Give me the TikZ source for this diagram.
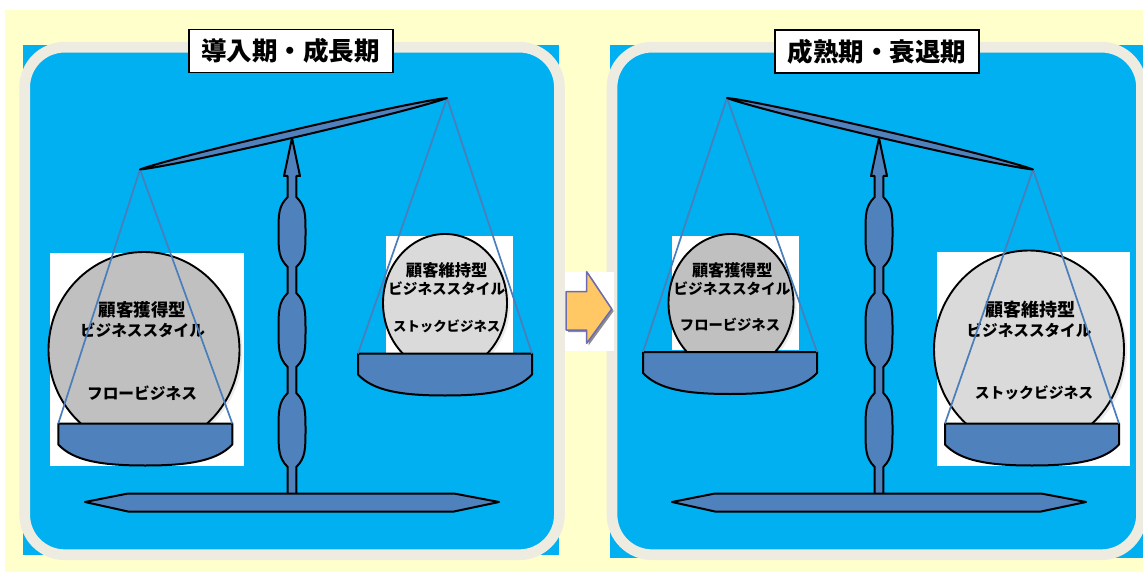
\documentclass[tikz,border=0pt]{standalone}
\usepackage{fontspec}
\usetikzlibrary{calc,shapes.geometric}
\newfontfamily\jp{Noto Sans CJK JP}

\definecolor{paper}{HTML}{FFFFCC}
\definecolor{sky}{HTML}{00B0F0}
\definecolor{frame}{HTML}{EEECE1}
\definecolor{steel}{HTML}{4F81BD}
\definecolor{cordblue}{HTML}{4A7EBB}
\definecolor{flowgray}{HTML}{C0C0C0}
\definecolor{stockgray}{HTML}{DADADA}
\definecolor{arrowfill}{HTML}{FFC864}
\definecolor{arrowline}{HTML}{6B6BB0}

\tikzset{
  part/.style={fill=steel, draw=black, line width=2pt, line join=round},
  cord/.style={draw=cordblue, line width=1.7pt},
  panel/.style={draw=frame, line width=10.7pt, fill=sky, rounded corners=40pt},
  backing/.style={fill=white},
  egg/.style={ellipse, draw=black, line width=1.9pt, inner sep=0pt},
  eggshade/.style={ellipse, fill=black, opacity=0.08, inner sep=0pt},
  label/.style={inner sep=0pt, font=\jp\bfseries},
  titlebox/.style={draw=black, line width=1.8pt, fill=white, inner sep=0pt,
    minimum width=204pt, minimum height=43pt, font=\jp\bfseries\fontsize{25.5}{26}\selectfont},
}

% pan: name, centre x, top y
\newcommand\drawpan[3]{%
  \coordinate (#1l) at (#2-87,#3);
  \coordinate (#1r) at (#2+87,#3);
  \path[part] (#1l) -- (#1r) -- (#2+87,#3+21)
    .. controls (#2+72,#3+37) and (#2+45,#3+42) .. (#2,#3+42)
    .. controls (#2-45,#3+42) and (#2-72,#3+37) .. (#2-87,#3+21) -- cycle;
}

% beam between two tip coordinates
\newcommand\drawbeam[2]{%
  \path[part] (#1)
    .. controls ($(#1)!0.12!(#2)!5pt!90:(#2)$) and ($(#1)!0.88!(#2)!5pt!-90:(#1)$) .. (#2)
    .. controls ($(#1)!0.88!(#2)!5pt!90:(#1)$) and ($(#1)!0.12!(#2)!5pt!-90:(#2)$) .. (#1) -- cycle;
}

% upright post with three bulges, centred at x
\newcommand\drawpost[1]{%
  \path[part] (#1,138) -- (#1+8,176) -- (#1+4.3,176) -- (#1+4.3,197)
    .. controls (#1+13.5,206) and (#1+13.5,214) .. (#1+13.5,232)
    .. controls (#1+13.5,250) and (#1+13.5,258) .. (#1+4.3,267)
    -- (#1+4.3,293)
    .. controls (#1+13.5,302) and (#1+13.5,311) .. (#1+13.5,330)
    .. controls (#1+13.5,349) and (#1+13.5,358) .. (#1+4.3,367)
    -- (#1+4.3,393)
    .. controls (#1+13.5,402) and (#1+13.5,411) .. (#1+13.5,430)
    .. controls (#1+13.5,449) and (#1+13.5,458) .. (#1+4.3,467)
    -- (#1+4.3,494) -- (#1-4.3,494) -- (#1-4.3,467)
    .. controls (#1-13.5,458) and (#1-13.5,449) .. (#1-13.5,430)
    .. controls (#1-13.5,411) and (#1-13.5,402) .. (#1-4.3,393)
    -- (#1-4.3,367)
    .. controls (#1-13.5,358) and (#1-13.5,349) .. (#1-13.5,330)
    .. controls (#1-13.5,311) and (#1-13.5,302) .. (#1-4.3,293)
    -- (#1-4.3,267)
    .. controls (#1-13.5,258) and (#1-13.5,250) .. (#1-13.5,232)
    .. controls (#1-13.5,214) and (#1-13.5,206) .. (#1-4.3,197)
    -- (#1-4.3,176) -- (#1-8,176) -- cycle;
}

% flat base, centred at x
\newcommand\drawbase[1]{%
  \path[part] (#1-207,502) -- (#1-164,493.5) -- (#1+162,493.5) -- (#1+207,502)
    -- (#1+162,511.5) -- (#1-164,511.5) -- cycle;
}

\begin{document}
\begin{tikzpicture}[x=1pt,y=-1pt]
\useasboundingbox (0,0) rectangle (1143,572);
\fill[white] (0,0) rectangle (1143,572);
\fill[paper] (5,10) rectangle (1143,572);

% two panels
\fill[sky] (22.7,45) rectangle (559.3,555);
\path[panel] (24.7,47.2) rectangle (559.4,554.7);
\fill[sky] (610,45) rectangle (1143,558);
\path[panel] (612,47.2) rectangle (1141.5,554.7);

\node[titlebox] (titleA) at (290.7,51) {導入期・成長期};
\node[titlebox] (titleB) at (877,51.8) {成熟期・衰退期};

% transition arrow
\fill[white] (565,272.3) rectangle (614,350.7);
\fill[black!45] (568,293.7) -- (588.7,293.7) -- (588.7,273.7) -- (613.7,311) -- (588.7,345.3) -- (588.7,332) -- (568,332) -- cycle;
\path[fill=arrowfill, draw=arrowline, line width=1.5pt, line join=round]
  (566,291.7) -- (586.7,291.7) -- (586.7,271.7) -- (611.7,309) -- (586.7,343.3) -- (586.7,330) -- (566,330) -- cycle;

% ---------- first balance ----------
\coordinate (aTipL) at (140,169.5);
\coordinate (aTipR) at (447,98);

\fill[backing] (50,252.5) rectangle (244,465.5);
\node[eggshade, minimum width=191pt, minimum height=196pt] at (147,352) {};
\node[egg, fill=flowgray, minimum width=191pt, minimum height=196pt] (aEggL) at (144,350) {};
\node[label, font=\jp\bfseries\fontsize{17.5}{18}\selectfont] (aL1) at (142.5,310) {顧客獲得型};
\node[label, font=\jp\bfseries\fontsize{15.6}{16}\selectfont] (aL2) at (142.5,330) {ビジネススタイル};
\node[label, font=\jp\bfseries\fontsize{15.7}{16}\selectfont] (aL3) at (142,393) {フロービジネス};

\fill[backing] (385.7,235.7) rectangle (513.3,353.3);
\node[eggshade, minimum width=124pt, minimum height=138pt] at (448,305) {};
\node[egg, fill=stockgray, minimum width=124pt, minimum height=138pt] (aEggR) at (445,303) {};
\node[label, font=\jp\bfseries\fontsize{16.3}{17}\selectfont] (aR1) at (446.7,270) {顧客維持型};
\node[label, font=\jp\bfseries\fontsize{14.6}{15}\selectfont] (aR2) at (446.7,288.3) {ビジネススタイル};
\node[label, font=\jp\bfseries\fontsize{13.4}{14}\selectfont] (aR3) at (446.7,326.7) {ストックビジネス};

\drawpan{aPanL}{145.3}{423.5}
\drawpan{aPanR}{445}{353.5}
\draw[cord] (aTipL) -- (aPanLl);
\draw[cord] (aTipL) -- (aPanLr);
\draw[cord] (aTipR) -- (aPanRl);
\draw[cord] (aTipR) -- (aPanRr);

\drawpost{292}
\drawbase{292}
\drawbeam{aTipL}{aTipR}

% ---------- second balance ----------
\coordinate (bTipL) at (727,98);
\coordinate (bTipR) at (1033,169.5);

\fill[backing] (671.5,236) rectangle (798.7,349.6);
\node[eggshade, minimum width=125pt, minimum height=138pt] at (734,305) {};
\node[egg, fill=flowgray, minimum width=125pt, minimum height=138pt] (bEggL) at (731,303) {};
\node[label, font=\jp\bfseries\fontsize{16.1}{17}\selectfont] (bL1) at (732.3,270) {顧客獲得型};
\node[label, font=\jp\bfseries\fontsize{14.6}{15}\selectfont] (bL2) at (732,288.3) {ビジネススタイル};
\node[label, font=\jp\bfseries\fontsize{14.3}{15}\selectfont] (bL3) at (730,324.8) {フロービジネス};

\fill[backing] (937.3,252.3) rectangle (1130,466);
\node[eggshade, minimum width=190pt, minimum height=198pt] at (1032,352) {};
\node[egg, fill=stockgray, minimum width=190pt, minimum height=198pt] (bEggR) at (1029,349.5) {};
\node[label, font=\jp\bfseries\fontsize{18}{18}\selectfont] (bR1) at (1030,310) {顧客維持型};
\node[label, font=\jp\bfseries\fontsize{15.6}{16}\selectfont] (bR2) at (1029,330) {ビジネススタイル};
\node[label, font=\jp\bfseries\fontsize{14.8}{15}\selectfont] (bR3) at (1034,393.3) {ストックビジネス};

\drawpan{bPanL}{730}{352}
\drawpan{bPanR}{1032}{423.5}
\draw[cord] (bTipL) -- (bPanLl);
\draw[cord] (bTipL) -- (bPanLr);
\draw[cord] (bTipR) -- (bPanRl);
\draw[cord] (bTipR) -- (bPanRr);

\drawpost{879}
\drawbase{879}
\drawbeam{bTipL}{bTipR}
\end{tikzpicture}
\end{document}
